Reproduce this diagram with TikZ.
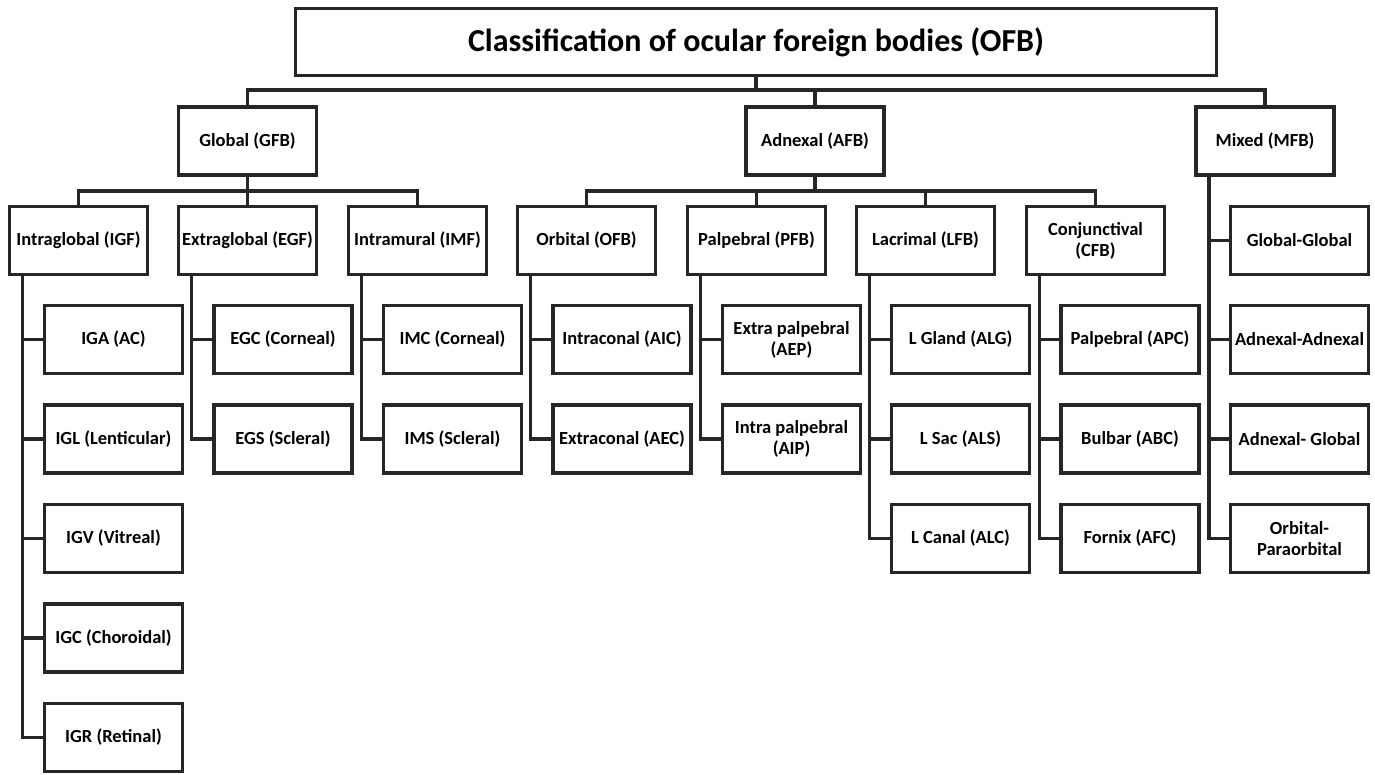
\documentclass[tikz,border=0pt]{standalone}
\usepackage{fontspec}
\setmainfont{Carlito}
\begin{document}
\begin{tikzpicture}[x=1pt,y=-1pt,
  box/.style={draw=black!85, line width=3.2pt, outer sep=0pt, minimum width=138pt, minimum height=68pt, inner sep=1pt, align=center, font=\bfseries\fontsize{18.5}{21}\selectfont},
  titlebox/.style={box, minimum width=921pt, minimum height=67pt, font=\bfseries\fontsize{32}{36}\selectfont},
  conn/.style={draw=black!85, line width=3.2pt}]
\useasboundingbox (0,0) rectangle (1375,774);
% title and level 1
\node[titlebox] (title) at (756,42) {Classification of ocular foreign bodies (OFB)};
\node[box] (gfb) at (247.5,141) {Global (GFB)};
\node[box] (afb) at (815,141) {Adnexal (AFB)};
\node[box] (mfb) at (1265,141) {Mixed (MFB)};
% level 2
\node[box] (igf) at (78.5,240.5) {Intraglobal (IGF)};
\node[box] (egf) at (247.5,240.5) {Extraglobal (EGF)};
\node[box] (imf) at (417.5,240.5) {Intramural (IMF)};
\node[box] (ofb) at (586.5,240.5) {Orbital (OFB)};
\node[box] (pfb) at (756.5,240.5) {Palpebral (PFB)};
\node[box] (lfb) at (925.5,240.5) {Lacrimal (LFB)};
\node[box] (cfb) at (1095.5,240.5) {Conjunctival\\(CFB)};
% level 3
\node[box] (iga) at (113.5,339.5) {IGA (AC)};
\node[box] (igl) at (113.5,439) {IGL (Lenticular)};
\node[box] (igv) at (113.5,538.5) {IGV (Vitreal)};
\node[box] (igc) at (113.5,638) {IGC (Choroidal)};
\node[box] (igr) at (113.5,737.5) {IGR (Retinal)};
\node[box] (egc) at (283,339.5) {EGC (Corneal)};
\node[box] (egs) at (283,439) {EGS (Scleral)};
\node[box] (imc) at (452.5,339.5) {IMC (Corneal)};
\node[box] (ims) at (452.5,439) {IMS (Scleral)};
\node[box] (aic) at (622,339.5) {Intraconal (AIC)};
\node[box] (aec) at (622,439) {Extraconal (AEC)};
\node[box] (aep) at (791.5,339.5) {Extra palpebral\\(AEP)};
\node[box] (aip) at (791.5,439) {Intra palpebral\\(AIP)};
\node[box] (alg) at (960.5,339.5) {L Gland (ALG)};
\node[box] (als) at (960.5,439) {L Sac (ALS)};
\node[box] (alc) at (960.5,538.5) {L Canal (ALC)};
\node[box] (apc) at (1130,339.5) {Palpebral (APC)};
\node[box] (abc) at (1130,439) {Bulbar (ABC)};
\node[box] (afc) at (1130,538.5) {Fornix (AFC)};
\node[box] (mgg) at (1299.5,240.5) {Global-Global};
\node[box] (maa) at (1299.5,339.5) {Adnexal-Adnexal};
\node[box] (mag) at (1299.5,439) {Adnexal- Global};
\node[box] (mop) at (1299.5,538.5) {Orbital-\\Paraorbital};
% level 1 connectors
\coordinate (j1) at (756,90);
\draw[conn] (title.south) -- (j1);
\draw[conn] (gfb.north) -- (gfb.north |- j1) -- (mfb.north |- j1) -- (mfb.north);
\draw[conn] (afb.north) -- (afb.north |- j1);
% level 2 connectors
\coordinate (j2) at (0,191);
\draw[conn] (gfb.south) -- (gfb.south |- j2);
\draw[conn] (igf.north) -- (igf.north |- j2) -- (imf.north |- j2) -- (imf.north);
\draw[conn] (egf.north) -- (egf.north |- j2);
\draw[conn] (afb.south) -- (afb.south |- j2);
\draw[conn] (ofb.north) -- (ofb.north |- j2) -- (cfb.north |- j2) -- (cfb.north);
\draw[conn] (pfb.north) -- (pfb.north |- j2);
\draw[conn] (lfb.north) -- (lfb.north |- j2);
% level 3 connectors
\foreach \p/\last/\others in {igf/igr/{iga,igl,igv,igc}, egf/egs/{egc}, imf/ims/{imc}, ofb/aec/{aic}, pfb/aip/{aep}, lfb/alc/{alg,als}, cfb/afc/{apc,abc}, mfb/mop/{mgg,maa,mag}}{
  \coordinate (\p t) at ([xshift=13pt]\p.south west);
  \draw[conn] (\p t) |- (\last.west);
  \foreach \c in \others { \draw[conn] (\c.west) -- (\c.west -| \p t); }
}
\end{tikzpicture}
\end{document}
